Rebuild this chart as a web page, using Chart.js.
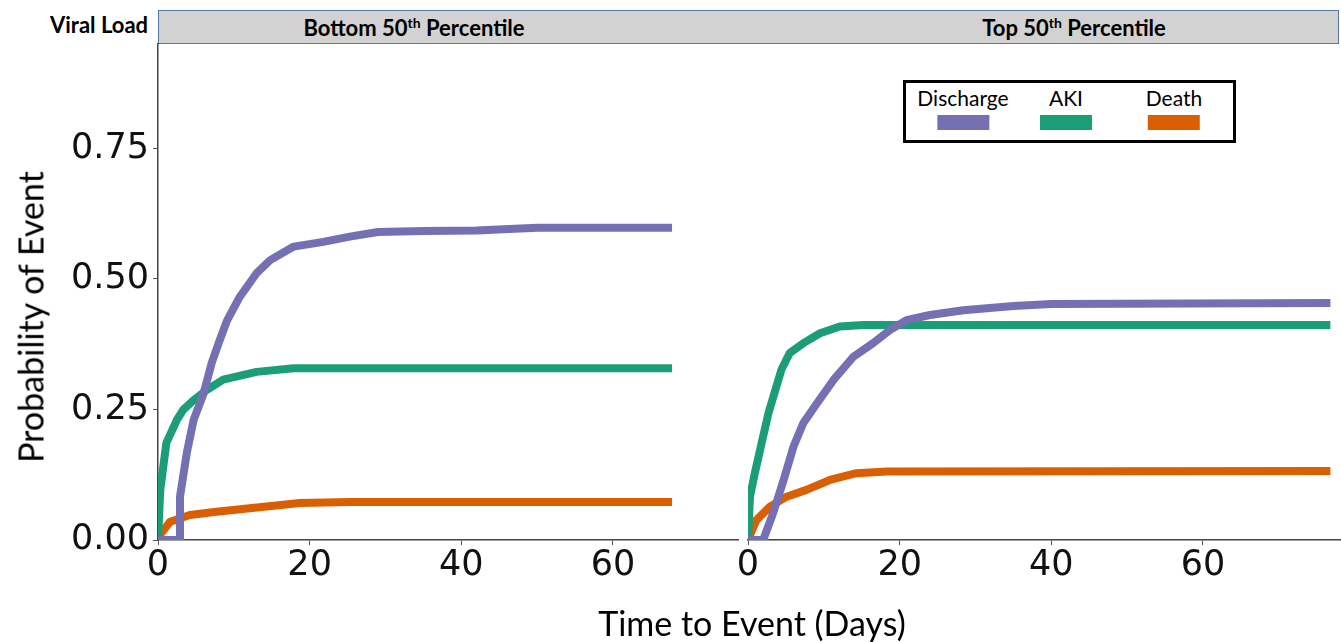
<!DOCTYPE html>
<html>
<head>
<meta charset="utf-8">
<script src="https://cdn.jsdelivr.net/npm/chart.js@4.4.1/dist/chart.umd.min.js"></script>
<style>
  html, body { margin: 0; padding: 0; background: #fff; }
  body { width: 1341px; height: 642px; position: relative; overflow: hidden; font-family: Lato, "Open Sans", sans-serif; }
  canvas { position: absolute; top: 0; }
  #cLeft { left: 0; }
  #cRight { left: 700px; }
  .strip { position: absolute; left: 158px; top: 10px; width: 1179px; height: 32px; background: #d2d2d2; border: 1.5px solid #5577a8; }
  .stripText { position: absolute; top: 14px; font: bold 22px Lato, sans-serif; color: #000; white-space: nowrap; transform: translateX(-50%); }
  .stripText sup { font-size: 14px; vertical-align: 8px; line-height: 0; }
  #facetVar { position: absolute; left: 50px; top: 11px; font: bold 22px Lato, sans-serif; color: #000; white-space: nowrap; }
  #yTitle { position: absolute; left: 30px; top: 317px; transform: translate(-50%, -50%) rotate(-90deg); font: 34px Lato, sans-serif; color: #000; white-space: nowrap; }
  #xTitle { position: absolute; left: 752px; top: 622px; transform: translate(-50%, -50%); font: 34px Lato, sans-serif; color: #000; white-space: nowrap; }
  #legend { position: absolute; left: 903px; top: 80px; width: 327px; height: 57px; border: 3px solid #000; background: #fff; }
  .lgItem { position: absolute; top: 3px; transform: translateX(-50%); text-align: center; }
  .lgLabel { font: 21px Lato, sans-serif; color: #000; white-space: nowrap; line-height: 24px; }
  .lgSwatch { width: 52px; height: 15px; margin: 5px auto 0; }
</style>
</head>
<body>
<div id="facetVar">Viral Load</div>
<div class="strip"></div>
<div class="stripText" style="left:414px">Bottom 50<sup>th</sup> Percentile</div>
<div class="stripText" style="left:1074px">Top 50<sup>th</sup> Percentile</div>
<canvas id="cLeft" width="740" height="642"></canvas>
<canvas id="cRight" width="641" height="642"></canvas>
<div id="legend"></div>
<div id="yTitle">Probability of Event</div>
<div id="xTitle">Time to Event (Days)</div>
<script>
// ---- Data ----
const seriesNames = ["Discharge", "AKI", "Death"];
const seriesColors = ["#7570b3", "#1b9e77", "#d95f02"];
const panelTitles = ["Bottom 50th Percentile", "Top 50th Percentile"];
const yTicks = [0, 0.25, 0.5, 0.75];
const xTicks = [0, 20, 40, 60];

// Bottom 50th percentile
const bottomDischargeDays = [0, 2.8, 2.9, 3.8, 4.7, 6.0, 7.1, 8.0, 9.1, 10.8, 13.0, 14.8, 17.9, 21.8, 25.3, 29, 35, 42, 50, 67.8];
const bottomDischargeProb = [0, 0, 0.083, 0.167, 0.23, 0.28, 0.34, 0.377, 0.42, 0.466, 0.511, 0.536, 0.562, 0.571, 0.581, 0.59, 0.592, 0.593, 0.598, 0.598];
const bottomAKIDays = [0, 0.3, 1.1, 2.5, 3.3, 4.7, 6.4, 8.6, 13, 17.9, 67.8];
const bottomAKIProb = [0, 0.096, 0.186, 0.23, 0.249, 0.268, 0.287, 0.307, 0.322, 0.329, 0.329];
const bottomDeathDays = [0, 1.6, 4.2, 7.7, 12.1, 18.7, 25.3, 67.8];
const bottomDeathProb = [0.005, 0.035, 0.048, 0.054, 0.061, 0.071, 0.073, 0.073];

// Top 50th percentile
const topDischargeDays = [0, 2.0, 3.3, 4.7, 6.0, 7.3, 9.1, 11.3, 13.9, 16.5, 18.7, 20.9, 24, 28.4, 35, 40, 76.8];
const topDischargeProb = [0, 0, 0.051, 0.115, 0.179, 0.224, 0.262, 0.307, 0.351, 0.377, 0.402, 0.421, 0.431, 0.44, 0.448, 0.452, 0.454];
const topAKIDays = [0, 0.26, 0.9, 1.8, 2.7, 3.6, 4.4, 5.5, 7.3, 9.5, 12.1, 15.2, 76.8];
const topAKIProb = [0, 0.083, 0.128, 0.186, 0.243, 0.287, 0.326, 0.358, 0.377, 0.396, 0.409, 0.412, 0.412];
const topDeathDays = [0, 1.1, 2.9, 5.1, 7.7, 10.8, 14.3, 18.3, 76.8];
const topDeathProb = [0, 0.038, 0.064, 0.083, 0.096, 0.115, 0.128, 0.131, 0.132];

// ---- helpers ----
function pts(xs, ys) { return xs.map((x, i) => ({ x: x, y: ys[i] })); }
function ds(i, xs, ys) {
  return {
    label: seriesNames[i], data: pts(xs, ys), borderColor: seriesColors[i], backgroundColor: seriesColors[i],
    borderWidth: 8, pointRadius: 0, tension: 0, borderCapStyle: 'butt', borderJoinStyle: 'round', fill: false
  };
}
function keepTicks(list) {
  return function (scale) {
    scale.ticks = list.map(v => ({ value: v }));
  };
}
const tickFont = { family: "'DejaVu Sans', sans-serif", size: 35 };
function makeOptions(xMax, showY, padLeft, padRight) {
  return {
    responsive: false, animation: false, devicePixelRatio: 1,
    layout: { padding: { top: 44, left: padLeft, right: padRight, bottom: 0 } },
    plugins: { legend: { display: false }, tooltip: { enabled: false } },
    scales: {
      x: {
        type: 'linear', min: 0, max: xMax,
        afterBuildTicks: keepTicks(xTicks),
        afterFit: s => { s.height = 102; },
        grid: { drawOnChartArea: false, drawTicks: true, tickLength: 5, color: '#555', lineWidth: 1 },
        border: { display: true, color: '#444', width: 1.5 },
        ticks: { font: tickFont, color: '#111', padding: 0, maxRotation: 0, autoSkip: false, callback: v => String(v) }
      },
      y: {
        display: showY, type: 'linear', min: 0, max: 0.95,
        afterBuildTicks: keepTicks(yTicks),
        afterFit: s => { s.width = showY ? 158 : 0; },
        grid: { drawOnChartArea: false, drawTicks: true, tickLength: 5, color: '#555', lineWidth: 1 },
        border: { display: true, color: '#444', width: 1.5 },
        ticks: { font: tickFont, color: '#111', padding: 4, autoSkip: false, callback: v => Number(v).toFixed(2) }
      }
    }
  };
}

new Chart(document.getElementById('cLeft'), {
  type: 'line',
  data: { datasets: [ds(0, bottomDischargeDays, bottomDischargeProb), ds(1, bottomAKIDays, bottomAKIProb), ds(2, bottomDeathDays, bottomDeathProb)] },
  options: makeOptions(76.5, true, 0, 2)
});
new Chart(document.getElementById('cRight'), {
  type: 'line',
  data: { datasets: [ds(0, topDischargeDays, topDischargeProb), ds(1, topAKIDays, topAKIProb), ds(2, topDeathDays, topDeathProb)] },
  options: makeOptions(78.2, false, 48, 0)
});

// legend from series arrays
const lg = document.getElementById('legend');
const lgCenters = [57, 160, 268];
seriesNames.forEach((n, i) => {
  const d = document.createElement('div');
  d.className = 'lgItem';
  d.style.left = lgCenters[i] + 'px';
  d.innerHTML = '<div class="lgLabel">' + n + '</div><div class="lgSwatch" style="background:' + seriesColors[i] + '"></div>';
  lg.appendChild(d);
});
</script>
</body>
</html>
